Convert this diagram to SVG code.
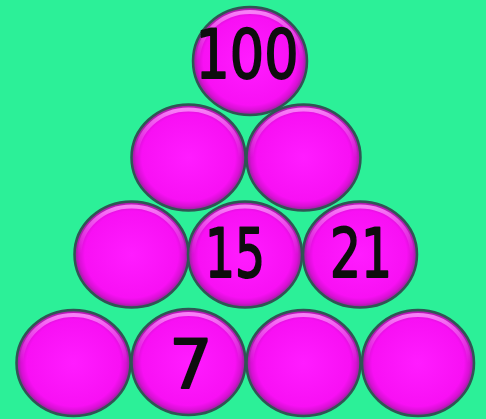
<svg xmlns="http://www.w3.org/2000/svg" width="486" height="419" viewBox="0 0 486 419">
<defs>
<radialGradient id="body" cx="0.5" cy="0.5" r="0.5">
<stop offset="0" stop-color="#ff1cff"/>
<stop offset="0.82" stop-color="#f810f4"/>
<stop offset="0.92" stop-color="#d810d4"/>
<stop offset="1" stop-color="#8a2a90"/>
</radialGradient>
<linearGradient id="shine" x1="0" y1="0" x2="0" y2="1">
<stop offset="0" stop-color="#ff9cff" stop-opacity="0.8"/>
<stop offset="0.5" stop-color="#ff60ff" stop-opacity="0"/>
</linearGradient>
<filter id="soft" x="-10%" y="-10%" width="120%" height="120%"><feGaussianBlur stdDeviation="0.5"/></filter>
</defs>
<style>
.ball{fill:url(#body);stroke:#2f5654;stroke-width:2.5}
.rim{fill:none;stroke:url(#shine);stroke-width:4}
.num{font-family:"DejaVu Sans","Liberation Sans",sans-serif;font-size:68px;fill:#111;stroke:#111;stroke-width:2;stroke-linejoin:round;text-anchor:middle;filter:url(#soft)}
</style>
<rect width="486" height="419" fill="#2cf098"/>
<g id="connectors"/>
<g id="n1"><ellipse class="ball" cx="250" cy="61" rx="57" ry="54"/><ellipse class="rim" cx="250" cy="61" rx="52" ry="49"/><text class="num" x="247" y="78" textLength="103" lengthAdjust="spacingAndGlyphs">100</text></g>
<g id="n2"><ellipse class="ball" cx="188.5" cy="157.5" rx="57" ry="53"/><ellipse class="rim" cx="188.5" cy="157.5" rx="52" ry="48"/></g>
<g id="n3"><ellipse class="ball" cx="303.5" cy="157.5" rx="57" ry="53"/><ellipse class="rim" cx="303.5" cy="157.5" rx="52" ry="48"/></g>
<g id="n4"><ellipse class="ball" cx="131.5" cy="254.5" rx="57" ry="53"/><ellipse class="rim" cx="131.5" cy="254.5" rx="52" ry="48"/></g>
<g id="n5"><ellipse class="ball" cx="245" cy="254.5" rx="57" ry="53"/><ellipse class="rim" cx="245" cy="254.5" rx="52" ry="48"/><text class="num" x="235" y="277" textLength="60" lengthAdjust="spacingAndGlyphs">15</text></g>
<g id="n6"><ellipse class="ball" cx="360" cy="254.5" rx="57" ry="53"/><ellipse class="rim" cx="360" cy="254.5" rx="52" ry="48"/><text class="num" x="361" y="277" textLength="62" lengthAdjust="spacingAndGlyphs">21</text></g>
<g id="n7"><ellipse class="ball" cx="73.5" cy="363" rx="57" ry="53"/><ellipse class="rim" cx="73.5" cy="363" rx="52" ry="48"/></g>
<g id="n8"><ellipse class="ball" cx="188.5" cy="362" rx="57" ry="53"/><ellipse class="rim" cx="188.5" cy="362" rx="52" ry="48"/><text class="num" x="191" y="388">7</text></g>
<g id="n9"><ellipse class="ball" cx="303.5" cy="363" rx="57" ry="53"/><ellipse class="rim" cx="303.5" cy="363" rx="52" ry="48"/></g>
<g id="n10"><ellipse class="ball" cx="418" cy="363" rx="56" ry="53"/><ellipse class="rim" cx="418" cy="363" rx="51" ry="48"/></g>
</svg>
